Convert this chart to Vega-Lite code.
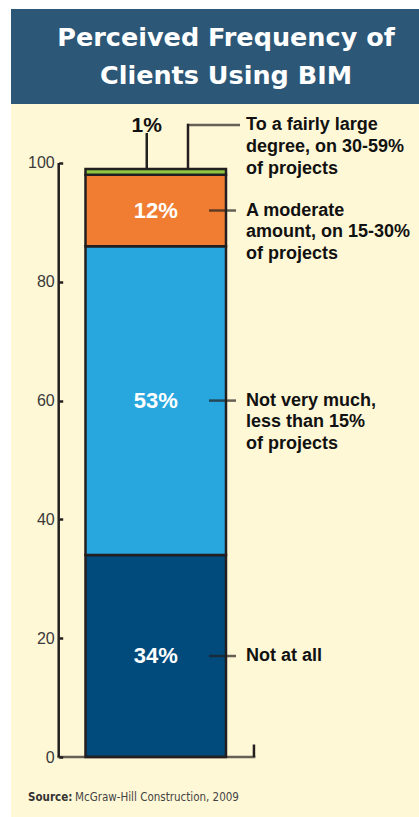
{
  "$schema": "https://vega.github.io/schema/vega-lite/v6.json",
  "background": "#ffffff",
  "padding": {"left": 11, "top": 9, "right": 0, "bottom": 0},
  "spacing": 0,
  "config": {"view": {"stroke": null}, "concat": {"spacing": 0}, "text": {"font": "Liberation Sans"}},
  "datasets": {
    "shares": [
      {"grp": "Clients", "cat": "Not at all", "value": 34, "label": "34%", "desc": "Not at all", "order": 1},
      {"grp": "Clients", "cat": "Not very much", "value": 52, "label": "53%", "desc": "Not very much,\nless than 15%\nof projects", "order": 2},
      {"grp": "Clients", "cat": "A moderate amount", "value": 12, "label": "12%", "desc": "A moderate\namount, on 15-30%\nof projects", "order": 3},
      {"grp": "Clients", "cat": "To a fairly large degree", "value": 1, "label": "1%", "desc": "To a fairly large\ndegree, on 30-59%\nof projects", "order": 4}
    ],
    "titles": [
      {"line": 1, "text": "Perceived Frequency of"},
      {"line": 2, "text": "Clients Using BIM"}
    ]
  },
  "vconcat": [
    {
      "width": 408,
      "height": 95,
      "view": {"fill": "#2c5777", "stroke": null},
      "data": {"name": "titles"},
      "mark": {"type": "text", "color": "#ffffff", "font": "DejaVu Sans", "fontWeight": "bold", "fontSize": 25.5, "baseline": "middle", "align": "center", "dx": 11},
      "encoding": {
        "y": {"field": "line", "type": "ordinal", "scale": {"type": "point", "padding": 0.75}, "axis": null},
        "text": {"field": "text"}
      }
    },
    {
      "width": 408,
      "height": 713,
      "view": {"fill": "#fff8d6", "stroke": null},
      "data": {"name": "shares"},
      "transform": [
        {"stack": "value", "groupby": ["grp"], "sort": [{"field": "order", "order": "ascending"}], "as": ["y0", "y1"]}
      ],
      "layer": [
        {
          "mark": {"type": "bar", "stroke": "#231f20", "strokeWidth": 2.5},
          "encoding": {
            "x": {"field": "grp", "type": "nominal", "title": null, "axis": null, "scale": {"type": "band", "paddingInner": 0, "paddingOuter": 0.952, "align": 0.2785}},
            "y": {"field": "y0", "type": "quantitative", "title": null,
                  "scale": {"domain": [-10.1, 109.93], "nice": false, "zero": false},
                  "axis": {"values": [0, 20, 40, 60, 80, 100], "domain": false, "grid": false, "offset": -47.7, "tickSize": -4, "tickWidth": 2.5, "tickColor": "#231f20", "labelPadding": 8.5, "labelFont": "Liberation Sans", "labelFontSize": 16, "labelColor": "#3a3a3a", "labelFontWeight": "normal", "title": null}},
            "y2": {"field": "y1"},
            "color": {"field": "cat", "type": "nominal", "legend": null,
                      "scale": {"domain": ["Not at all", "Not very much", "A moderate amount", "To a fairly large degree"], "range": ["#004a7c", "#27a7de", "#f07d32", "#8dc63f"]}}
          }
        },
        {
          "transform": [{"filter": "datum.order == 1"}],
          "layer": [
            {
              "mark": {"type": "rule", "color": "#231f20", "strokeWidth": 2.5},
              "encoding": {
                "x": {"field": "grp", "type": "nominal", "bandPosition": -0.1907},
                "y": {"datum": 0, "type": "quantitative", "scale": {"domain": [-10.1, 109.93], "nice": false, "zero": false}},
                "y2": {"datum": 100}
              }
            },
            {
              "mark": {"type": "rule", "color": "#231f20", "strokeWidth": 2.5},
              "encoding": {
                "x": {"field": "grp", "type": "nominal", "bandPosition": 1.199},
                "y": {"datum": 0, "type": "quantitative", "scale": {"domain": [-10.1, 109.93], "nice": false, "zero": false}},
                "y2": {"datum": 2.1}
              }
            },
            {
              "mark": {"type": "tick", "color": "#231f20", "orient": "horizontal", "thickness": 2.5, "size": 198, "xOffset": 0.6},
              "encoding": {
                "x": {"field": "grp", "type": "nominal"},
                "y": {"datum": 0, "type": "quantitative", "scale": {"domain": [-10.1, 109.93], "nice": false, "zero": false}}
              }
            },
            {
              "mark": {"type": "text", "text": "Source:", "font": "DejaVu Sans Condensed, Liberation Sans Narrow, Liberation Sans, sans-serif", "fontWeight": "bold", "fontSize": 11.5, "color": "#333333", "align": "left", "baseline": "alphabetic"},
              "encoding": {
                "x": {"field": "grp", "type": "nominal", "bandPosition": -0.409},
                "y": {"datum": -7.4, "type": "quantitative", "scale": {"domain": [-10.1, 109.93], "nice": false, "zero": false}}
              }
            },
            {
              "mark": {"type": "text", "text": "McGraw-Hill Construction, 2009", "font": "DejaVu Sans Condensed, Liberation Sans Narrow, Liberation Sans, sans-serif", "fontSize": 11.5, "color": "#444444", "align": "left", "baseline": "alphabetic", "dx": 47},
              "encoding": {
                "x": {"field": "grp", "type": "nominal", "bandPosition": -0.409},
                "y": {"datum": -7.4, "type": "quantitative", "scale": {"domain": [-10.1, 109.93], "nice": false, "zero": false}}
              }
            }
          ]
        },
        {
          "transform": [
            {"filter": "datum.order < 4"},
            {"fold": ["y0", "y1"], "as": ["edge", "pos"]},
            {"aggregate": [{"op": "mean", "field": "pos", "as": "mid"}], "groupby": ["grp", "label", "desc", "order"]}
          ],
          "layer": [
            {
              "mark": {"type": "text", "color": "#ffffff", "fontWeight": "bold", "fontSize": 22, "baseline": "middle", "align": "center"},
              "encoding": {
                "x": {"field": "grp", "type": "nominal"},
                "y": {"field": "mid", "type": "quantitative", "title": null, "scale": {"domain": [-10.1, 109.93], "nice": false, "zero": false}},
                "text": {"field": "label"}
              }
            },
            {
              "mark": {"type": "tick", "color": "#231f20", "orient": "horizontal", "thickness": 2.5, "size": 27, "xOffset": 66.75},
              "encoding": {
                "x": {"field": "grp", "type": "nominal"},
                "y": {"field": "mid", "type": "quantitative", "title": null, "scale": {"domain": [-10.1, 109.93], "nice": false, "zero": false}}
              }
            },
            {
              "mark": {"type": "text", "color": "#111111", "fontWeight": "bold", "fontSize": 18, "baseline": "alphabetic", "align": "left", "dx": 20, "dy": 5, "lineBreak": "\n", "lineHeight": 21.5},
              "encoding": {
                "x": {"field": "grp", "type": "nominal", "bandPosition": 1},
                "y": {"field": "mid", "type": "quantitative", "title": null, "scale": {"domain": [-10.1, 109.93], "nice": false, "zero": false}},
                "text": {"field": "desc"}
              }
            }
          ]
        },
        {
          "transform": [{"filter": "datum.order == 4"}],
          "layer": [
            {
              "mark": {"type": "text", "color": "#111111", "fontWeight": "bold", "fontSize": 21, "baseline": "alphabetic", "align": "center", "dy": -37},
              "encoding": {
                "x": {"field": "grp", "type": "nominal", "bandPosition": 0.436},
                "y": {"field": "y1", "type": "quantitative", "title": null, "scale": {"domain": [-10.1, 109.93], "nice": false, "zero": false}},
                "text": {"field": "label"}
              }
            },
            {
              "mark": {"type": "rule", "color": "#231f20", "strokeWidth": 2.5},
              "encoding": {
                "x": {"field": "grp", "type": "nominal", "bandPosition": 0.436},
                "y": {"field": "y1", "type": "quantitative", "title": null, "scale": {"domain": [-10.1, 109.93], "nice": false, "zero": false}},
                "y2": {"datum": 105.05}
              }
            },
            {
              "mark": {"type": "rule", "color": "#231f20", "strokeWidth": 2.5},
              "encoding": {
                "x": {"field": "grp", "type": "nominal", "bandPosition": 0.7295},
                "y": {"field": "y1", "type": "quantitative", "title": null, "scale": {"domain": [-10.1, 109.93], "nice": false, "zero": false}},
                "y2": {"datum": 106.6}
              }
            },
            {
              "mark": {"type": "tick", "color": "#231f20", "orient": "horizontal", "thickness": 2.5, "size": 53, "xOffset": 57.75},
              "encoding": {
                "x": {"field": "grp", "type": "nominal"},
                "y": {"datum": 106.4, "type": "quantitative", "scale": {"domain": [-10.1, 109.93], "nice": false, "zero": false}}
              }
            },
            {
              "mark": {"type": "text", "color": "#111111", "fontWeight": "bold", "fontSize": 18, "baseline": "alphabetic", "align": "left", "dx": 20, "dy": 5, "lineBreak": "\n", "lineHeight": 22},
              "encoding": {
                "x": {"field": "grp", "type": "nominal", "bandPosition": 1},
                "y": {"datum": 106.4, "type": "quantitative", "scale": {"domain": [-10.1, 109.93], "nice": false, "zero": false}},
                "text": {"field": "desc"}
              }
            }
          ]
        }
      ]
    }
  ]
}
